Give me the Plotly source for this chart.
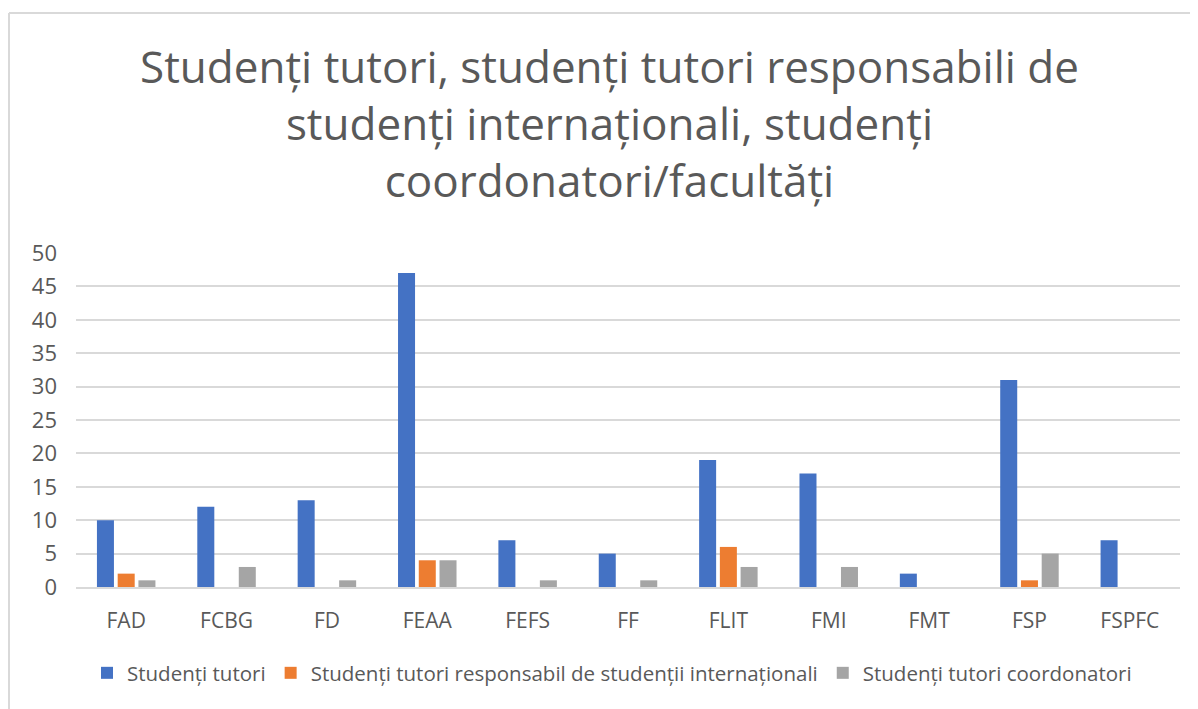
import plotly.graph_objs as go

facultati = ["FAD", "FCBG", "FD", "FEAA", "FEFS", "FF", "FLIT", "FMI", "FMT", "FSP", "FSPFC"]
tutori = [10, 12, 13, 47, 7, 5, 19, 17, 2, 31, 7]
responsabili = [2, 0, 0, 4, 0, 0, 6, 0, 0, 1, 0]
coordonatori = [1, 3, 1, 4, 1, 1, 3, 3, 0, 5, 0]

y_ticks = list(range(0, 55, 5))

# the page body adds an 8px offset, so the figure is laid out 8px up/left
OFF = 8
W, H = 1198 - OFF, 709 - OFF
L, R, T, B = 76 - OFF, 18, 253 - OFF, 122
FONT = "Open Sans"
GREY = "#595959"


def px(x, y):
    # screen pixel position -> paper coords
    x, y = x - OFF, y - OFF
    return (x - L) / (W - L - R), (H - B - y) / (H - T - B)


traces = []
for name, vals, col in [
    ("Studenți tutori", tutori, "#4472C4"),
    ("Studenți tutori responsabil de studenții internaționali", responsabili, "#ED7D31"),
    ("Studenți tutori coordonatori", coordonatori, "#A5A5A5"),
]:
    traces.append(go.Bar(x=facultati, y=vals, name=name, marker=dict(color=col, line=dict(width=0))))

x0, y0 = px(9, 13)
x1, y1 = px(1210, 720)
lx, ly = px(612, 673)
tx, ty = px(609, 123)

layout = go.Layout(
    width=W,
    height=H,
    margin=dict(l=L, r=R, t=T, b=B),
    paper_bgcolor="white",
    plot_bgcolor="white",
    barmode="group",
    bargap=0.38,
    bargroupgap=0.18,
    font=dict(family=FONT, color=GREY, size=21),
    showlegend=True,
    legend=dict(
        orientation="h",
        x=lx,
        xanchor="center",
        y=ly,
        yanchor="middle",
        font=dict(size=20.5, color=GREY),
        itemwidth=30,
        traceorder="normal",
    ),
    xaxis=dict(
        showgrid=False,
        showline=True,
        linecolor="#D9D9D9",
        linewidth=2,
        ticks="",
        tickfont=dict(size=21, color=GREY),
        ticklabelstandoff=14,
    ),
    yaxis=dict(
        range=[0, 50],
        tickvals=y_ticks,
        showgrid=True,
        gridcolor="#D9D9D9",
        gridwidth=1.5,
        zeroline=False,
        showline=False,
        ticks="",
        tickfont=dict(size=22, color=GREY),
        ticklabelstandoff=18,
    ),
    annotations=[
        dict(
            xref="paper",
            yref="paper",
            x=tx,
            y=ty,
            text="Studenți tutori, studenți tutori responsabili de<br>studenți internaționali, studenți<br>coordonatori/facultăți",
            showarrow=False,
            font=dict(family=FONT, size=44, color=GREY),
            xanchor="center",
            yanchor="middle",
        )
    ],
    shapes=[
        dict(type="line", xref="paper", yref="paper", x0=x0, y0=y0, x1=x1, y1=y0,
             line=dict(color="#D9D9D9", width=2)),
        dict(type="line", xref="paper", yref="paper", x0=x0, y0=y0, x1=x0, y1=y1,
             line=dict(color="#D9D9D9", width=2)),
    ],
)

fig = go.Figure(data=traces, layout=layout)
fig.write_html("out.html")
